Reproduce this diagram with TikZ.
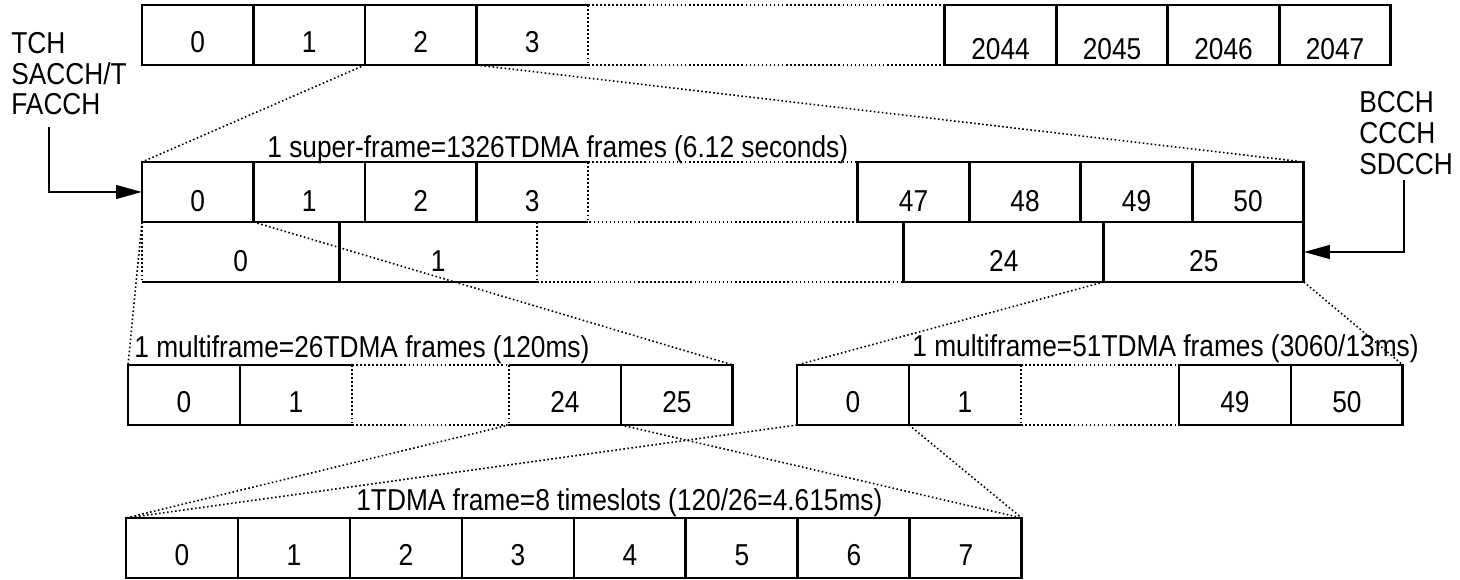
\documentclass[tikz,border=0pt]{standalone}
\usepackage{fontspec}
\setmainfont{Liberation Sans}[FakeStretch=0.87]
\usepackage{tikz}
\usetikzlibrary{positioning,arrows.meta}
\newcommand{\framefont}{\fontsize{17.2}{20}\selectfont}

\begin{document}
\begin{tikzpicture}[
    x=0.02cm, y=-0.02cm,
    every node/.style={font=\framefont},
    cell/.style={rectangle, draw, line width=1.6pt, outer sep=0pt, inner sep=0pt, minimum width=2.23cm, minimum height=1.2cm, text height=0.72cm, text depth=0pt},
    opencell/.style={cell, draw=none},
    halfcell/.style={minimum width=3.95cm},
    slotcell/.style={minimum width=2.24cm},
    cellline/.style={line width=1.6pt},
    gapline/.style={line width=0.9pt, dash pattern=on 0.9pt off 1.4pt},
    zoomline/.style={line width=0.9pt, dash pattern=on 0.9pt off 1.4pt},
    chanarrow/.style={line width=1.5pt, -{Triangle[length=0.52cm, width=0.27cm]}},
    caption/.style={inner sep=0pt, anchor=base west}
]
    \useasboundingbox (0,0) rectangle (1460,580);

    % Hyperframe
    \node[cell, anchor=north west] (h0) at (142,5) {0};
    \node[cell, right=0pt of h0] (h1) {1};
    \node[cell, right=0pt of h1] (h2) {2};
    \node[opencell, right=0pt of h2] (h3) {3};
    \node[cell, right=7.14cm of h3, text height=1.0cm] (h2044) {2044};
    \node[cell, right=0pt of h2044, text height=1.0cm] (h2045) {2045};
    \node[cell, right=0pt of h2045, text height=1.0cm] (h2046) {2046};
    \node[cell, right=0pt of h2046, text height=1.0cm] (h2047) {2047};

    % Super-frame, 51 multiframes
    \node[cell, anchor=north west, text height=0.8cm] (u0) at (142,162) {0};
    \node[cell, right=0pt of u0, text height=0.8cm] (u1) {1};
    \node[cell, right=0pt of u1, text height=0.8cm] (u2) {2};
    \node[opencell, right=0pt of u2, text height=0.8cm] (u3) {3};
    \node[cell, right=5.4cm of u3, text height=0.8cm] (u47) {47};
    \node[cell, right=0pt of u47, text height=0.8cm] (u48) {48};
    \node[cell, right=0pt of u48, text height=0.8cm] (u49) {49};
    \node[cell, right=0pt of u49, text height=0.8cm] (u50) {50};

    % Super-frame, 26 multiframes
    \node[opencell, halfcell, anchor=north west, text height=0.8cm] (l0) at (142,222) {0};
    \node[opencell, halfcell, right=0pt of l0, text height=0.8cm] (l1) {1};
    \node[cell, minimum width=4cm, right=7.34cm of l1, text height=0.8cm] (l24) {24};
    \node[cell, minimum width=4cm, right=0pt of l24, text height=0.8cm] (l25) {25};

    % 26-frame multiframe
    \node[cell, slotcell, anchor=north west] (m0) at (128,365) {0};
    \node[opencell, slotcell, right=0pt of m0] (m1) {1};
    \node[opencell, slotcell, right=3.14cm of m1] (m24) {24};
    \node[cell, slotcell, right=0pt of m24] (m25) {25};

    % 51-frame multiframe
    \node[cell, slotcell, anchor=north west] (n0) at (797,365) {0};
    \node[opencell, slotcell, right=0pt of n0] (n1) {1};
    \node[cell, slotcell, right=3.16cm of n1] (n49) {49};
    \node[cell, slotcell, right=0pt of n49] (n50) {50};

    % TDMA frame
    \node[cell, slotcell, anchor=north west] (t0) at (126,518) {0};
    \node[cell, slotcell, right=0pt of t0] (t1) {1};
    \node[cell, slotcell, right=0pt of t1] (t2) {2};
    \node[cell, slotcell, right=0pt of t2] (t3) {3};
    \node[cell, slotcell, right=0pt of t3] (t4) {4};
    \node[cell, slotcell, right=0pt of t4] (t5) {5};
    \node[cell, slotcell, right=0pt of t5] (t6) {6};
    \node[cell, slotcell, right=0pt of t6] (t7) {7};

    % open cells
    \draw[cellline] (h3.north west) -- (h3.north east) (h3.south west) -- (h3.south east);
    \draw[cellline] (u3.north west) -- (u3.north east) (u3.south west) -- (u3.south east);
    \draw[cellline] (l0.north west) -- (l0.north east) -- (l0.south east) -- (l0.south west);
    \draw[cellline] (l1.north west) -- (l1.north east) (l1.south west) -- (l1.south east);
    \draw[cellline] (m1.north west) -- (m1.north east) (m1.south west) -- (m1.south east);
    \draw[cellline] (m24.north west) -- (m24.north east) (m24.south west) -- (m24.south east);
    \draw[cellline] (n1.north west) -- (n1.north east) (n1.south west) -- (n1.south east);

    % gaps
    \draw[gapline] (h3.north east) -- (h3.south east);
    \draw[gapline] (h3.north east) -- (h2044.north west) (h3.south east) -- (h2044.south west);
    \draw[gapline] (u3.north east) -- (u3.south east);
    \draw[gapline] (u3.north east) -- (u47.north west);
    \draw[gapline] (l0.north west) -- (l0.south west);
    \draw[gapline] (l1.north east) -- (l1.south east);
    \draw[gapline] (l1.north east) -- (l24.north west) (l1.south east) -- (l24.south west);
    \draw[gapline] (m1.north east) -- (m1.south east);
    \draw[gapline] (m24.north west) -- (m24.south west);
    \draw[gapline] (m1.north east) -- (m24.north west) (m1.south east) -- (m24.south west);
    \draw[gapline] (n1.north east) -- (n1.south east);
    \draw[gapline] (n1.north east) -- (n49.north west) (n1.south east) -- (n49.south west);

    % Zoom lines
    \draw[zoomline] (h2.south west) -- (u0.north west);
    \draw[zoomline] (h2.south east) -- (u50.north east);
    \draw[zoomline] (u0.south west) -- (m0.north west);
    \draw[zoomline] (u0.south east) -- (m25.north east);
    \draw[zoomline] (l25.south west) -- (n0.north west);
    \draw[zoomline] (l25.south east) -- (n50.north east);
    \draw[zoomline] (m24.south west) -- (t0.north west);
    \draw[zoomline] (m24.south east) -- (t7.north east);
    \draw[zoomline] (n0.south west) -- (t0.north west);
    \draw[zoomline] (n0.south east) -- (t7.north east);

    % Titles
    \node[caption] (sftitle) at (267,158) {1 super-frame=1326TDMA frames (6.12 seconds)};
    \node[caption] (mftitle) at (134,358) {1 multiframe=26TDMA frames (120ms)};
    \node[caption] (mfbtitle) at (912,357) {1 multiframe=51TDMA frames (3060/13ms)};
    \node[caption] (tdmatitle) at (356,510) {1TDMA frame=8 timeslots (120/26=4.615ms)};

    % Channels
    \node[caption] (tch) at (11,54) {TCH};
    \node[caption] (sacch) at (11,85) {SACCH/T};
    \node[caption] (facch) at (11,115) {FACCH};
    \node[caption] (bcch) at (1359,113) {BCCH};
    \node[caption] (ccch) at (1359,144) {CCCH};
    \node[caption] (sdcch) at (1359,175) {SDCCH};

    \coordinate (tchbend) at (49,127);
    \coordinate (bcchbend) at (1404,180);
    \draw[chanarrow] (tchbend) |- (u0.west);
    \draw[chanarrow] (bcchbend) |- (l25.east);
\end{tikzpicture}
\end{document}
